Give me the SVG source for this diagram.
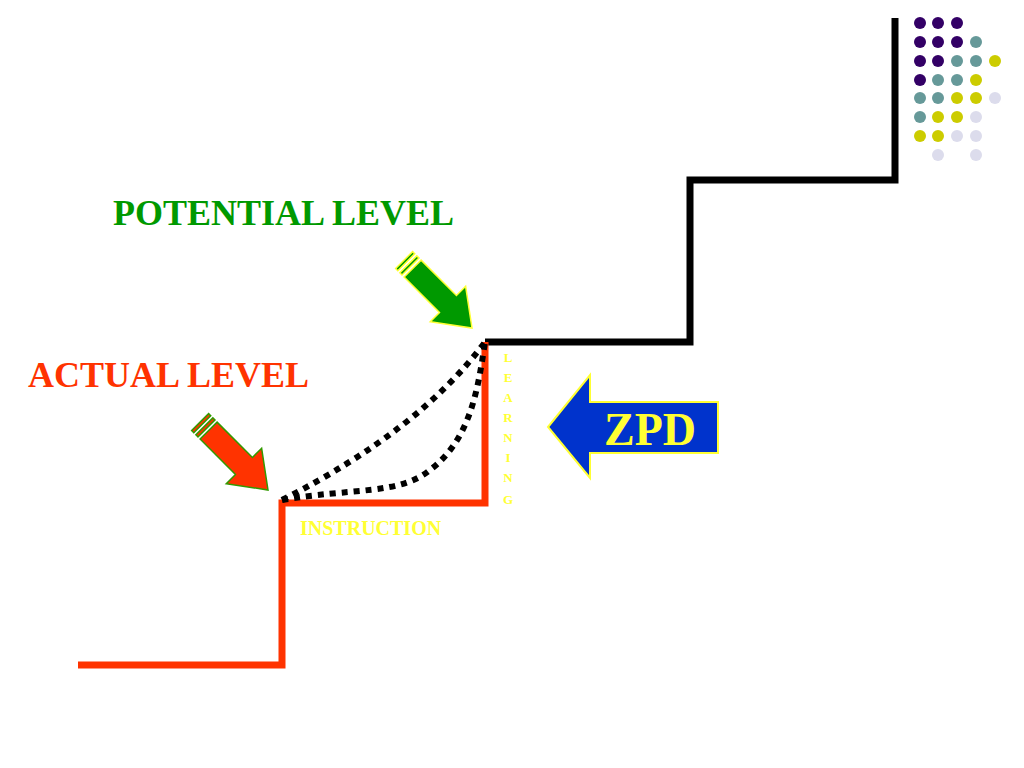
<svg xmlns="http://www.w3.org/2000/svg" width="1024" height="768" viewBox="0 0 1024 768">
<style>
.lbl{font-family:"Liberation Serif",serif;font-weight:bold}
.p{fill:#330066}.t{fill:#669999}.y{fill:#cccc00}.l{fill:#dcdcec}
.step{fill:none;stroke-width:7;stroke-linejoin:miter}
.dot{fill:none;stroke:#000;stroke-width:6;stroke-dasharray:6 6}
</style>
<defs>
<g id="arr">
<polygon points="-84,-12 -34,-12 -34,-25 0,0 -34,25 -34,12 -84,12"/>
<polygon points="-90,-12 -87,-12 -87,12 -90,12"/>
<polygon points="-96,-12 -93,-12 -93,12 -96,12"/>
</g>
</defs>
<rect width="1024" height="768" fill="#fff"/>
<g id="dots">
<circle class="p" cx="920" cy="23" r="6"/><circle class="p" cx="938" cy="23" r="6"/><circle class="p" cx="957" cy="23" r="6"/>
<circle class="p" cx="920" cy="42" r="6"/><circle class="p" cx="938" cy="42" r="6"/><circle class="p" cx="957" cy="42" r="6"/><circle class="t" cx="976" cy="42" r="6"/>
<circle class="p" cx="920" cy="61" r="6"/><circle class="p" cx="938" cy="61" r="6"/><circle class="t" cx="957" cy="61" r="6"/><circle class="t" cx="976" cy="61" r="6"/><circle class="y" cx="995" cy="61" r="6"/>
<circle class="p" cx="920" cy="80" r="6"/><circle class="t" cx="938" cy="80" r="6"/><circle class="t" cx="957" cy="80" r="6"/><circle class="y" cx="976" cy="80" r="6"/>
<circle class="t" cx="920" cy="98" r="6"/><circle class="t" cx="938" cy="98" r="6"/><circle class="y" cx="957" cy="98" r="6"/><circle class="y" cx="976" cy="98" r="6"/><circle class="l" cx="995" cy="98" r="6"/>
<circle class="t" cx="920" cy="117" r="6"/><circle class="y" cx="938" cy="117" r="6"/><circle class="y" cx="957" cy="117" r="6"/><circle class="l" cx="976" cy="117" r="6"/>
<circle class="y" cx="920" cy="136" r="6"/><circle class="y" cx="938" cy="136" r="6"/><circle class="l" cx="957" cy="136" r="6"/><circle class="l" cx="976" cy="136" r="6"/>
<circle class="l" cx="938" cy="155" r="6"/><circle class="l" cx="976" cy="155" r="6"/>
</g>
<g id="connectors">
<polyline class="step" stroke="#000" points="485,342 690,342 690,180 895,180 895,18"/>
<polyline class="step" stroke="#ff3300" points="78,665 282,665 282,503 485,503 485,342"/>
<path class="dot" d="M282,500 Q420,430 485,342"/>
<path class="dot" d="M282,500 C350,488 400,495 430,470 C470,440 478,390 485,342"/>
</g>
<g id="potential-arrow" transform="translate(472,328) rotate(45)" fill="#009900" stroke="#ffff33" stroke-width="1.5"><use href="#arr"/></g>
<g id="actual-arrow" transform="translate(268,490) rotate(45)" fill="#ff3300" stroke="#339900" stroke-width="1.5"><use href="#arr"/></g>
<g id="zpd">
<polygon points="548,427 590,375 590,402 718,402 718,453 590,453 590,478" fill="#0033cc" stroke="#ffff33" stroke-width="2"/>
<text class="lbl" x="650" y="445" font-size="46" fill="#ffff33" text-anchor="middle">ZPD</text>
</g>
<g id="labels">
<text class="lbl" x="113" y="225" font-size="36" fill="#009900" font-weight="normal">POTENTIAL LEVEL</text>
<text class="lbl" x="28" y="387" font-size="36" fill="#ff3300" font-weight="normal">ACTUAL LEVEL</text>
<text class="lbl" x="300" y="535" font-size="20" fill="#ffff33">INSTRUCTION</text>
<g class="lbl" font-size="13" fill="#ffff33" text-anchor="middle" font-weight="normal">
<text x="508" y="362">L</text><text x="508" y="382">E</text><text x="508" y="402">A</text><text x="508" y="422">R</text><text x="508" y="442">N</text><text x="508" y="462">I</text><text x="508" y="482">N</text><text x="508" y="504">G</text>
</g>
</g>
</svg>
